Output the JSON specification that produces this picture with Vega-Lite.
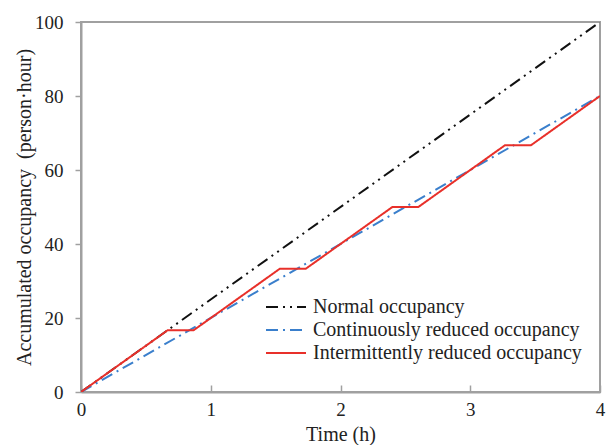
{
  "$schema": "https://vega.github.io/schema/vega-lite/v6.json",
  "width": 519,
  "height": 370,
  "autosize": {"type": "none"},
  "padding": {"left": 81, "top": 22, "right": 8, "bottom": 53},
  "background": "white",
  "config": {
    "view": {"stroke": "#a0a0a0", "strokeWidth": 2},
    "font": "Liberation Serif, Times New Roman, serif",
    "axis": {
      "grid": false,
      "labelFlush": false,
      "domainColor": "#a0a0a0",
      "domainWidth": 2,
      "tickColor": "#a0a0a0",
      "tickWidth": 1.5,
      "labelFont": "Liberation Serif, Times New Roman, serif",
      "labelFontSize": 19,
      "labelColor": "#222",
      "titleFont": "Liberation Serif, Times New Roman, serif",
      "titleFontSize": 20,
      "titleFontWeight": "normal",
      "titleColor": "#222"
    }
  },
  "data": {
    "values": [
      {"series": "Normal occupancy", "t": 0, "v": 0},
      {"series": "Normal occupancy", "t": 4, "v": 100},
      {"series": "Continuously reduced occupancy", "t": 0, "v": 0},
      {"series": "Continuously reduced occupancy", "t": 4, "v": 80},
      {"series": "Intermittently reduced occupancy", "t": 0, "v": 0},
      {"series": "Intermittently reduced occupancy", "t": 0.667, "v": 16.67},
      {"series": "Intermittently reduced occupancy", "t": 0.867, "v": 16.67},
      {"series": "Intermittently reduced occupancy", "t": 1.533, "v": 33.33},
      {"series": "Intermittently reduced occupancy", "t": 1.733, "v": 33.33},
      {"series": "Intermittently reduced occupancy", "t": 2.4, "v": 50},
      {"series": "Intermittently reduced occupancy", "t": 2.6, "v": 50},
      {"series": "Intermittently reduced occupancy", "t": 3.267, "v": 66.67},
      {"series": "Intermittently reduced occupancy", "t": 3.467, "v": 66.67},
      {"series": "Intermittently reduced occupancy", "t": 4, "v": 80}
    ]
  },
  "mark": {"type": "line", "strokeWidth": 2, "clip": true},
  "encoding": {
    "x": {
      "field": "t", "type": "quantitative",
      "scale": {"domain": [0, 4], "nice": false},
      "axis": {"values": [0, 1, 2, 3, 4], "title": "Time (h)", "tickSize": -7, "labelPadding": 15, "titlePadding": 5}
    },
    "y": {
      "field": "v", "type": "quantitative",
      "scale": {"domain": [0, 100], "nice": false},
      "axis": {"values": [0, 20, 40, 60, 80, 100], "title": "Accumulated occupancy\u00a0\u00a0(person·hour)", "tickSize": 6, "labelPadding": 12, "titlePadding": 0}
    },
    "color": {
      "field": "series", "type": "nominal",
      "scale": {
        "domain": ["Normal occupancy", "Continuously reduced occupancy", "Intermittently reduced occupancy"],
        "range": ["#111111", "#3a7fcc", "#e8302a"]
      },
      "legend": {
        "orient": "none", "legendX": 194, "legendY": 274, "title": null,
        "symbolType": "M-2,0H2", "symbolSize": 400, "symbolStrokeWidth": 2,
        "labelFont": "Liberation Serif, Times New Roman, serif", "labelFontSize": 20, "labelColor": "#222",
        "labelLimit": 400, "rowPadding": 2, "labelOffset": 16
      }
    },
    "strokeDash": {
      "field": "series", "type": "nominal",
      "scale": {
        "domain": ["Normal occupancy", "Continuously reduced occupancy", "Intermittently reduced occupancy"],
        "range": [[12, 5, 2, 5, 2, 5], [12, 5, 2, 5], [1, 0]]
      },
      "legend": null
    }
  }
}
